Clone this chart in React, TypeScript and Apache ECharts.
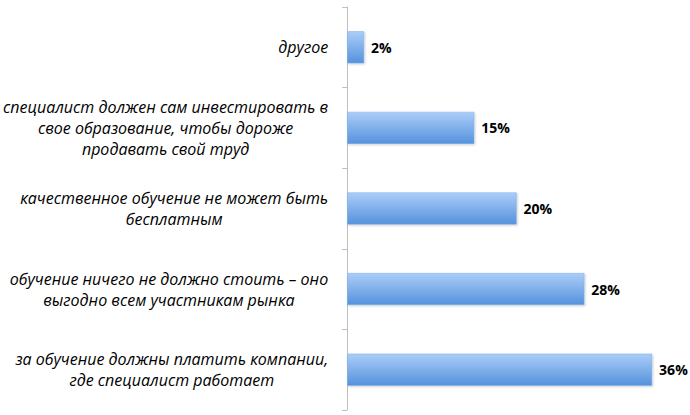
import React, { useEffect, useRef } from "react";
import * as echarts from "echarts";

const categories: string[][] = [
  ["другое"],
  ["специалист должен сам инвестировать в", "свое образование, чтобы дороже", "продавать свой труд"],
  ["качественное обучение не может быть", "бесплатным"],
  ["обучение ничего не должно стоить – оно", "выгодно всем участникам рынка"],
  ["за обучение должны платить компании,", "где специалист работает"],
];
const values: number[] = [2, 15, 20, 28, 36];

export default function App() {
  const ref = useRef<HTMLDivElement>(null);
  useEffect(() => {
    if (!ref.current) return;
    const chart = echarts.init(ref.current, null, { renderer: "svg" });
    chart.setOption({
      animation: false,
      grid: { left: 346, right: 4, top: 7, bottom: 5, containLabel: false },
      xAxis: {
        type: "value",
        min: 0,
        max: 40,
        show: false,
      },
      yAxis: {
        type: "category",
        inverse: true,
        data: categories.map((c) => c.join("\n")),
        axisLine: { show: true, lineStyle: { color: "#bfbfbf", width: 1 } },
        axisTick: { show: true, length: 5, lineStyle: { color: "#bfbfbf" } },
        axisLabel: {
          margin: 19,
          align: "right",
          formatter: (v: string) =>
            v
              .split("\n")
              .map((l) => "{c|" + l + "}")
              .join("\n"),
          rich: {
            c: {
              align: "center",
              fontFamily: "Open Sans",
              fontStyle: "italic",
              fontSize: 16,
              lineHeight: 21,
              color: "#000",
            },
          },
        },
      },
      series: [
        {
          type: "bar",
          data: values,
          barWidth: 32,
          itemStyle: {
            color: new echarts.graphic.LinearGradient(0, 0, 0, 1, [
              { offset: 0, color: "#abcdf9" },
              { offset: 1, color: "#5592dc" },
            ]),
            borderColor: "#7aaee8",
            borderWidth: 0.5,
            shadowColor: "rgba(0,0,0,0.2)",
            shadowBlur: 2,
            shadowOffsetX: 1,
            shadowOffsetY: 1,
          },
          label: {
            show: true,
            position: "right",
            distance: 7,
            formatter: "{c}%",
            fontFamily: "Open Sans",
            fontWeight: "bold",
            fontSize: 14,
            color: "#000",
          },
        },
      ],
    });
    return () => chart.dispose();
  }, []);
  return <div ref={ref} style={{ width: 690, height: 415, position: "absolute", left: 0, top: 0 }} />;
}
